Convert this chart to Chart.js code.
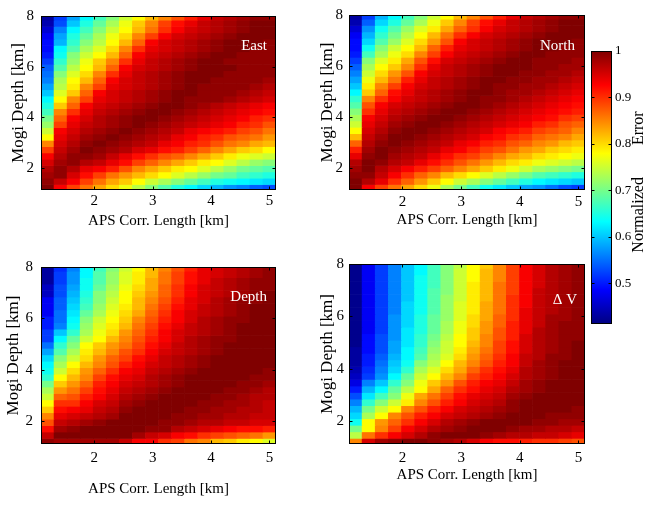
<!DOCTYPE html>
<html>
<head>
<meta charset="utf-8">
<script src="https://cdn.jsdelivr.net/npm/chart.js@4.4.1/dist/chart.umd.min.js"></script>
<style>
  html, body { margin: 0; padding: 0; background: #fff; }
  #fig { position: relative; width: 647px; height: 506px; overflow: hidden; }
  #fig canvas { position: absolute; }
</style>
</head>
<body>
<div id="fig">
  <canvas id="east"  width="300" height="240" style="left:0;top:0"></canvas>
  <canvas id="north" width="280" height="240" style="left:308px;top:0"></canvas>
  <canvas id="depth" width="300" height="256" style="left:0;top:250px"></canvas>
  <canvas id="dv"    width="280" height="256" style="left:308px;top:250px"></canvas>
  <canvas id="cbar"  width="59"  height="506" style="left:588px;top:0"></canvas>
</div>
<script>
// grid: APS correlation length (x, km) by Mogi source depth (y, km)
const xCenters = [1.2, 1.4235, 1.6471, 1.8706, 2.0941, 2.3176, 2.5412, 2.7647, 2.9882,
                  3.2118, 3.4353, 3.6588, 3.8824, 4.1059, 4.3294, 4.5529, 4.7765, 5.0];
const yCenters = [7.96, 7.71, 7.46, 7.21, 6.96, 6.71, 6.46, 6.21, 5.96, 5.71, 5.46, 5.21, 4.96, 4.71,
                  4.46, 4.21, 3.96, 3.71, 3.46, 3.21, 2.96, 2.71, 2.46, 2.21, 1.96, 1.71, 1.46, 1.21];
const xTicks = [2, 3, 4, 5];
const yTicks = [2, 4, 6, 8];
const yMin = 1.12, yMax = 8;

// colour range of the normalized error
const cbMin = 0.412, cbMax = 1.0;
const cbTicks = [0.5, 0.6, 0.7, 0.8, 0.9, 1];
const jetStops = [[0, '#000080'], [0.125, '#0000ff'], [0.375, '#00ffff'],
                  [0.625, '#ffff00'], [0.875, '#ff0000'], [1, '#800000']];

// normalized error, one row per depth (top row = deepest)
const eastErr = [
  [.43,.52,.58,.63,.67,.71,.75,.78,.82,.85,.88,.91,.94,.96,.97,.98,.99,.99],
  [.44,.53,.60,.65,.69,.73,.77,.81,.85,.89,.92,.94,.96,.97,.98,.99,1,1],
  [.46,.56,.63,.67,.71,.75,.78,.82,.86,.90,.93,.95,.96,.97,.98,.99,1,1],
  [.48,.58,.65,.69,.73,.77,.80,.85,.89,.93,.95,.96,.97,.98,.99,1,1,1],
  [.49,.59,.66,.71,.74,.78,.82,.87,.93,.95,.96,.97,.98,.99,1,1,1,.99],
  [.49,.63,.68,.73,.76,.80,.85,.90,.94,.95,.96,.97,.98,.99,1,1,.99,.99],
  [.50,.64,.71,.75,.78,.82,.87,.93,.95,.96,.97,.98,.99,1,1,.99,.99,.99],
  [.52,.66,.72,.77,.81,.85,.90,.94,.96,.97,.98,.99,1,1,.99,.99,.99,.99],
  [.54,.68,.74,.78,.82,.87,.93,.95,.96,.97,.98,.99,1,1,1,.99,.99,.99],
  [.55,.71,.76,.80,.85,.90,.94,.96,.97,.98,.99,1,1,1,.99,.99,.99,.99],
  [.56,.73,.78,.82,.87,.93,.95,.96,.97,.98,.99,1,1,.99,.99,.99,.99,.98],
  [.58,.74,.79,.85,.89,.94,.95,.96,.97,.98,.99,1,.99,.99,.99,.99,.98,.97],
  [.60,.76,.81,.87,.93,.95,.96,.97,.98,.99,1,1,.99,.99,.99,.98,.97,.96],
  [.63,.78,.85,.89,.94,.95,.96,.97,.98,.99,1,.99,.99,.99,.98,.97,.96,.95],
  [.65,.81,.87,.93,.95,.96,.97,.98,.99,1,1,.99,.98,.97,.96,.95,.94,.93],
  [.67,.85,.90,.94,.96,.97,.98,.99,1,1,.99,.98,.97,.96,.95,.94,.93,.92],
  [.70,.87,.93,.95,.97,.98,.99,1,1,.99,.98,.97,.96,.95,.94,.93,.91,.90],
  [.72,.89,.94,.96,.97,.98,.99,1,.99,.98,.97,.96,.95,.94,.93,.91,.90,.88],
  [.75,.93,.95,.97,.98,.99,1,.99,.98,.97,.96,.94,.93,.92,.91,.89,.88,.86],
  [.78,.94,.96,.98,.99,1,.99,.98,.97,.96,.94,.93,.91,.90,.88,.87,.86,.84],
  [.85,.95,.97,.99,1,.99,.98,.97,.96,.94,.93,.91,.90,.88,.86,.85,.83,.82],
  [.89,.96,.98,1,.99,.98,.97,.95,.94,.92,.91,.89,.87,.85,.83,.81,.80,.78],
  [.93,.97,.99,.99,.98,.96,.94,.92,.90,.88,.87,.85,.83,.81,.79,.77,.76,.75],
  [.95,.98,.99,.97,.96,.94,.92,.89,.87,.85,.83,.81,.79,.78,.76,.74,.72,.71],
  [.97,.99,.97,.94,.93,.91,.88,.85,.83,.81,.79,.78,.76,.74,.72,.70,.69,.68],
  [.98,.99,.95,.92,.89,.86,.84,.82,.80,.78,.76,.74,.72,.70,.69,.67,.66,.65],
  [.99,.96,.93,.89,.86,.83,.81,.78,.75,.73,.71,.69,.67,.65,.64,.63,.62,.61],
  [1,.93,.89,.86,.83,.80,.77,.74,.71,.68,.65,.63,.61,.59,.57,.56,.54,.53]
];

const northErr = [
  [.43,.52,.59,.63,.67,.71,.75,.78,.82,.85,.88,.91,.94,.96,.97,.98,.99,.99],
  [.44,.54,.61,.65,.69,.73,.77,.81,.85,.89,.92,.94,.96,.97,.98,.99,1,1],
  [.46,.57,.64,.68,.72,.76,.79,.83,.87,.90,.93,.95,.96,.97,.98,.99,1,1],
  [.48,.59,.66,.70,.74,.78,.82,.86,.90,.93,.95,.96,.97,.98,.99,1,1,1],
  [.49,.61,.68,.72,.76,.80,.84,.88,.93,.95,.96,.97,.98,.99,1,1,1,.99],
  [.49,.64,.71,.75,.78,.82,.87,.91,.94,.95,.96,.97,.98,.99,1,1,.99,.99],
  [.50,.67,.73,.77,.80,.85,.89,.93,.95,.96,.97,.98,.99,1,1,.99,.99,.99],
  [.52,.71,.76,.79,.83,.88,.92,.95,.96,.97,.98,.99,1,1,.99,.99,.99,.98],
  [.54,.73,.78,.81,.85,.90,.94,.96,.97,.98,.99,1,1,1,.99,.99,.98,.98],
  [.56,.75,.80,.84,.88,.93,.95,.96,.97,.98,.99,1,1,.99,.99,.98,.98,.97],
  [.58,.77,.82,.86,.91,.94,.96,.97,.98,.99,1,1,.99,.99,.98,.98,.97,.96],
  [.60,.79,.85,.89,.93,.95,.96,.97,.98,.99,1,.99,.99,.98,.98,.97,.96,.95],
  [.63,.81,.87,.92,.94,.96,.97,.98,.99,1,1,.99,.98,.98,.97,.96,.95,.94],
  [.66,.85,.90,.93,.95,.96,.97,.98,.99,1,.99,.99,.98,.97,.96,.95,.94,.93],
  [.68,.88,.93,.95,.96,.97,.98,.99,1,1,.99,.98,.97,.96,.95,.94,.93,.92],
  [.71,.90,.94,.96,.97,.98,.99,1,1,.99,.98,.97,.96,.95,.94,.93,.92,.91],
  [.73,.93,.95,.97,.98,.99,1,1,.99,.98,.97,.96,.95,.94,.93,.92,.90,.89],
  [.75,.94,.96,.98,.99,1,1,.99,.98,.97,.96,.95,.94,.93,.91,.90,.88,.87],
  [.78,.95,.97,.99,1,1,.99,.98,.97,.96,.95,.93,.92,.91,.89,.88,.87,.85],
  [.82,.96,.98,1,1,.99,.98,.97,.96,.95,.93,.92,.90,.89,.87,.86,.85,.83],
  [.87,.97,.99,1,.99,.98,.97,.96,.94,.93,.91,.90,.88,.87,.85,.84,.82,.81],
  [.91,.98,1,.99,.98,.97,.96,.94,.93,.91,.89,.88,.86,.84,.83,.81,.80,.79],
  [.94,.99,1,.98,.97,.96,.94,.92,.90,.89,.87,.85,.83,.82,.80,.79,.78,.77],
  [.97,1,.99,.97,.96,.94,.92,.90,.88,.86,.84,.82,.80,.79,.77,.76,.75,.74],
  [.98,1,.97,.95,.93,.91,.89,.87,.85,.83,.81,.79,.77,.75,.73,.72,.71,.70],
  [.99,.99,.96,.93,.90,.87,.85,.82,.80,.78,.76,.74,.72,.70,.68,.67,.66,.65],
  [1,.97,.94,.90,.87,.84,.81,.78,.75,.73,.71,.69,.67,.65,.63,.62,.61,.60],
  [1,.93,.89,.86,.83,.80,.77,.73,.70,.67,.64,.62,.60,.58,.57,.55,.53,.52]
];

const depthErr = [
  [.43,.51,.56,.63,.67,.71,.75,.78,.82,.85,.88,.91,.94,.95,.96,.97,.98,.99],
  [.43,.52,.57,.63,.68,.72,.76,.79,.82,.86,.89,.92,.94,.95,.96,.97,.98,.99],
  [.43,.52,.57,.64,.68,.72,.76,.79,.83,.86,.89,.92,.94,.96,.97,.98,.99,.99],
  [.45,.53,.58,.64,.69,.73,.77,.80,.83,.87,.90,.93,.95,.96,.97,.98,.99,.99],
  [.45,.53,.59,.65,.71,.74,.78,.81,.84,.87,.90,.93,.95,.96,.97,.98,.99,1],
  [.48,.54,.60,.66,.71,.75,.78,.82,.85,.88,.91,.94,.95,.97,.98,.99,.99,1],
  [.48,.54,.61,.67,.72,.76,.79,.82,.86,.89,.92,.94,.96,.97,.98,.99,1,1],
  [.48,.55,.62,.69,.73,.77,.80,.83,.87,.90,.93,.95,.96,.97,.98,.99,1,1],
  [.50,.55,.63,.71,.75,.78,.81,.85,.88,.91,.93,.95,.97,.98,.99,.99,1,1],
  [.50,.56,.64,.72,.76,.79,.82,.86,.89,.92,.94,.96,.97,.98,.99,1,1,1],
  [.52,.60,.66,.73,.77,.80,.84,.87,.90,.93,.95,.96,.97,.98,.99,1,1,1],
  [.52,.63,.69,.75,.78,.82,.85,.88,.91,.93,.95,.97,.98,.99,.99,1,1,1],
  [.55,.66,.71,.78,.81,.84,.86,.89,.92,.94,.96,.97,.98,.99,1,1,1,1],
  [.58,.68,.73,.79,.82,.85,.88,.90,.93,.95,.96,.97,.98,.99,1,1,1,1],
  [.61,.71,.75,.80,.84,.87,.89,.92,.94,.96,.97,.98,.99,1,1,1,1,1],
  [.63,.73,.78,.82,.85,.88,.91,.93,.95,.96,.97,.98,.99,1,1,1,1,1],
  [.64,.75,.80,.84,.87,.90,.93,.94,.96,.97,.98,.99,1,1,1,1,1,.99],
  [.66,.78,.82,.85,.89,.92,.94,.95,.97,.98,.99,1,1,1,1,1,.99,.99],
  [.70,.81,.84,.87,.91,.93,.95,.96,.97,.98,.99,1,1,1,1,.99,.99,.98],
  [.73,.84,.86,.89,.92,.94,.96,.97,.98,.99,1,1,1,1,.99,.99,.98,.97],
  [.75,.87,.88,.91,.93,.95,.97,.98,.99,1,1,1,1,.99,.99,.98,.97,.97],
  [.78,.90,.90,.93,.95,.96,.98,.99,1,1,1,1,.99,.99,.98,.98,.97,.96],
  [.81,.92,.93,.94,.96,.97,.99,1,1,1,1,.99,.99,.98,.98,.97,.97,.96],
  [.85,.94,.95,.96,.97,.98,1,1,1,1,.99,.99,.98,.98,.97,.97,.96,.96],
  [.88,.96,.97,.98,.99,1,1,1,1,.99,.99,.98,.97,.97,.96,.96,.95,.95],
  [.92,.98,.99,1,1,1,1,1,.99,.99,.97,.96,.95,.94,.93,.92,.92,.91],
  [.96,1,1,1,1,1,1,.98,.96,.95,.93,.92,.90,.89,.88,.87,.86,.84],
  [.99,.98,.98,.98,.98,.98,.96,.93,.93,.90,.89,.86,.85,.82,.81,.79,.78,.76]
];

const dvErr = [
  [.42,.48,.52,.56,.60,.63,.67,.71,.74,.78,.81,.85,.89,.93,.95,.97,.98,.99],
  [.42,.48,.52,.56,.60,.63,.67,.71,.75,.78,.82,.85,.89,.93,.95,.97,.98,.99],
  [.42,.48,.52,.56,.60,.64,.67,.71,.75,.78,.82,.85,.89,.93,.95,.97,.98,.99],
  [.42,.48,.52,.56,.60,.64,.67,.71,.75,.79,.82,.86,.89,.93,.95,.97,.98,.99],
  [.42,.48,.52,.56,.60,.64,.68,.71,.75,.79,.82,.86,.89,.93,.96,.97,.98,.99],
  [.42,.48,.52,.56,.60,.64,.68,.72,.75,.79,.82,.86,.90,.93,.96,.97,.98,.99],
  [.42,.48,.52,.56,.61,.64,.68,.72,.76,.79,.83,.86,.90,.93,.96,.97,.98,.99],
  [.42,.48,.52,.56,.61,.64,.68,.72,.76,.79,.83,.86,.90,.94,.96,.97,.98,.99],
  [.42,.48,.52,.57,.61,.65,.69,.72,.76,.80,.83,.87,.90,.94,.96,.98,.98,.99],
  [.42,.48,.52,.57,.61,.65,.69,.73,.77,.80,.84,.87,.91,.94,.96,.98,.99,.99],
  [.42,.48,.52,.57,.62,.65,.69,.73,.77,.81,.84,.88,.91,.94,.97,.98,.99,.99],
  [.42,.49,.53,.57,.62,.66,.70,.74,.78,.81,.85,.88,.91,.95,.97,.98,.99,.99],
  [.42,.49,.53,.58,.62,.66,.71,.75,.78,.82,.85,.89,.92,.95,.97,.98,.99,1],
  [.43,.49,.53,.58,.63,.67,.72,.75,.79,.83,.86,.89,.92,.95,.97,.98,.99,1],
  [.43,.50,.54,.59,.63,.68,.73,.76,.80,.84,.87,.90,.93,.96,.97,.99,.99,1],
  [.43,.50,.55,.60,.64,.71,.74,.78,.82,.85,.88,.91,.93,.96,.98,.99,1,1],
  [.44,.51,.56,.61,.66,.73,.76,.80,.83,.87,.90,.92,.94,.97,.98,.99,1,1],
  [.45,.52,.57,.63,.69,.75,.78,.82,.85,.89,.91,.93,.95,.97,.98,.99,1,1],
  [.47,.56,.60,.66,.71,.77,.81,.84,.88,.91,.93,.94,.96,.98,.99,1,1,1],
  [.50,.59,.63,.69,.74,.78,.83,.87,.90,.92,.94,.95,.97,.98,.99,1,1,1],
  [.53,.62,.67,.71,.77,.83,.86,.89,.92,.94,.95,.96,.98,.99,1,1,1,1],
  [.56,.66,.71,.75,.79,.85,.88,.91,.93,.95,.96,.97,.99,1,1,1,1,1],
  [.59,.70,.75,.78,.85,.88,.91,.93,.95,.96,.97,.98,.99,1,1,1,1,.99],
  [.61,.73,.78,.85,.88,.91,.93,.95,.96,.97,.98,.99,1,1,1,.99,.99,.99],
  [.64,.78,.84,.87,.90,.93,.95,.97,.98,.99,1,1,1,1,.99,.99,.98,.98],
  [.70,.78,.85,.89,.93,.95,.97,.98,.99,1,1,1,.99,.98,.98,.97,.97,.96],
  [.74,.86,.90,.93,.95,.97,.99,1,1,1,.99,.98,.97,.97,.96,.96,.95,.94],
  [.85,.95,.98,.99,1,1,.99,.98,.97,.95,.93,.92,.92,.91,.90,.90,.89,.88]
];

const serif = '"Liberation Serif", "Times New Roman", serif';

// MATLAB-style jet colormap
function jet(v) {
  const t = Math.min(1, Math.max(0, (v - cbMin) / (cbMax - cbMin)));
  const ch = k => Math.round(255 * Math.min(1, Math.max(0, 1.5 - Math.abs(4 * t - k))));
  return `rgb(${ch(3)},${ch(2)},${ch(1)})`;
}

// box around the axes, inward ticks on all four sides, panel caption
const framePlugin = {
  id: 'frame',
  afterDatasetsDraw(chart, args, opts) {
    const { ctx, chartArea: a, scales } = chart;
    const tl = opts.tick || 3;
    const L = Math.round(a.left) + 0.5, R = Math.round(a.right) - 0.5;
    const T = Math.round(a.top) + 0.5, B = Math.round(a.bottom) - 0.5;
    ctx.save();
    ctx.strokeStyle = '#000';
    ctx.lineWidth = 1;
    ctx.strokeRect(L, T, R - L, B - T);
    ctx.beginPath();
    if (scales.x && scales.x.options.display !== false) {
      scales.x.ticks.forEach(t => {
        const px = Math.round(scales.x.getPixelForValue(t.value)) + 0.5;
        ctx.moveTo(px, B); ctx.lineTo(px, B - tl);
        ctx.moveTo(px, T); ctx.lineTo(px, T + tl);
      });
    }
    scales.y.ticks.forEach(t => {
      const py = Math.round(scales.y.getPixelForValue(t.value)) + 0.5;
      ctx.moveTo(L, py); ctx.lineTo(L + tl, py);
      ctx.moveTo(R, py); ctx.lineTo(R - tl, py);
    });
    ctx.stroke();
    if (opts.label) {
      ctx.fillStyle = '#fff';
      ctx.font = '15px ' + serif;
      ctx.textAlign = 'right';
      ctx.textBaseline = 'middle';
      ctx.fillText(opts.label, a.right - opts.dx, a.top + opts.dy);
    }
    if (opts.sideTitle) {
      ctx.fillStyle = '#000';
      ctx.font = '16px ' + serif;
      ctx.textAlign = 'center';
      ctx.textBaseline = 'middle';
      ctx.translate(a.right + opts.sideDx, opts.sideY);
      ctx.rotate(-Math.PI / 2);
      ctx.fillText(opts.sideTitle, 0, 0);
    }
    ctx.restore();
  }
};

function heatPanel(id, grid, caption, lay) {
  const halfW = (xCenters[1] - xCenters[0]) / 2;
  const halfH = Math.abs(yCenters[0] - yCenters[1]) / 2;
  const datasets = yCenters.map((yc, r) => ({
    data: xCenters.map(x => ({ x, y: [yc - halfH, yc + halfH] })),
    backgroundColor: grid[r].map(jet),
    borderWidth: 0,
    grouped: false,
    barPercentage: 1,
    categoryPercentage: 1,
    clip: 0
  }));
  const tickFont = { family: serif, size: 15 };
  return new Chart(document.getElementById(id), {
    type: 'bar',
    data: { datasets },
    plugins: [framePlugin],
    options: {
      responsive: false,
      animation: false,
      devicePixelRatio: 1,
      layout: { padding: { top: lay.top, right: lay.right, left: 0, bottom: 0 } },
      plugins: {
        legend: { display: false },
        tooltip: { enabled: false },
        frame: { label: caption, dx: lay.capDx, dy: lay.capDy }
      },
      scales: {
        x: {
          type: 'linear',
          offset: false,
          min: xCenters[0] - halfW,
          max: xCenters[xCenters.length - 1] + halfW,
          grid: { display: false, drawTicks: false },
          border: { display: false },
          afterBuildTicks: s => { s.ticks = xTicks.map(v => ({ value: v })); },
          ticks: { font: tickFont, color: '#000', padding: lay.xPad, maxRotation: 0 },
          title: { display: true, text: 'APS Corr. Length [km]', font: { family: serif, size: 15 }, color: '#000',
                   padding: { top: 0, bottom: lay.xTitlePad } },
          afterFit: s => { s.height = lay.xH; }
        },
        y: {
          type: 'linear',
          min: yMin,
          max: yMax,
          grid: { display: false, drawTicks: false },
          border: { display: false },
          afterBuildTicks: s => { s.ticks = yTicks.map(v => ({ value: v })); },
          ticks: { font: tickFont, color: '#000', padding: lay.yPad },
          title: { display: true, text: 'Mogi Depth [km]', font: { family: serif, size: 17 }, color: '#000',
                   padding: { top: lay.yTitlePad, bottom: 0 } },
          afterFit: s => { s.width = 41; }
        }
      }
    }
  });
}

heatPanel('east', eastErr, 'East',
  { top: 9, right: 24, xH: 50, xPad: 2, xTitlePad: 10, yPad: 7, yTitlePad: 8, capDx: 9, capDy: 30 });
heatPanel('north', northErr, 'North',
  { top: 9, right: 3, xH: 50, xPad: 3, xTitlePad: 11, yPad: 6, yTitlePad: 9, capDx: 10, capDy: 31 });
heatPanel('depth', depthErr, 'Depth',
  { top: 11, right: 24, xH: 62, xPad: 5, xTitlePad: 8, yPad: 8, yTitlePad: 3, capDx: 9, capDy: 30 });
heatPanel('dv', dvErr, 'Δ V',
  { top: 11, right: 3, xH: 62, xPad: 5, xTitlePad: 22, yPad: 5, yTitlePad: 9, capDx: 8, capDy: 36 });

// colorbar
new Chart(document.getElementById('cbar'), {
  type: 'bar',
  data: {
    labels: [''],
    datasets: [{
      data: [[cbMin, cbMax]],
      backgroundColor: c => {
        const a = c.chart.chartArea;
        if (!a) return jetStops[0][1];
        const g = c.chart.ctx.createLinearGradient(0, a.bottom, 0, a.top);
        jetStops.forEach(([t, col]) => g.addColorStop(t, col));
        return g;
      },
      borderWidth: 0,
      barPercentage: 1,
      categoryPercentage: 1,
      clip: 0
    }]
  },
  plugins: [framePlugin],
  options: {
    responsive: false,
    animation: false,
    devicePixelRatio: 1,
    layout: { padding: { left: 3, top: 51, bottom: 182, right: 0 } },
    plugins: {
      legend: { display: false },
      tooltip: { enabled: false },
      frame: { tick: 3, sideTitle: 'Normalized        Error', sideDx: 27, sideY: 182 }
    },
    scales: {
      x: { display: false },
      y: {
        position: 'right',
        min: cbMin,
        max: cbMax,
        grid: { display: false, drawTicks: false },
        border: { display: false },
        afterBuildTicks: s => { s.ticks = cbTicks.map(v => ({ value: v })); },
        ticks: { font: { family: serif, size: 13 }, color: '#000', padding: 3, callback: v => String(v) },
        afterFit: s => { s.width = 35; }
      }
    }
  }
});
</script>
</body>
</html>
